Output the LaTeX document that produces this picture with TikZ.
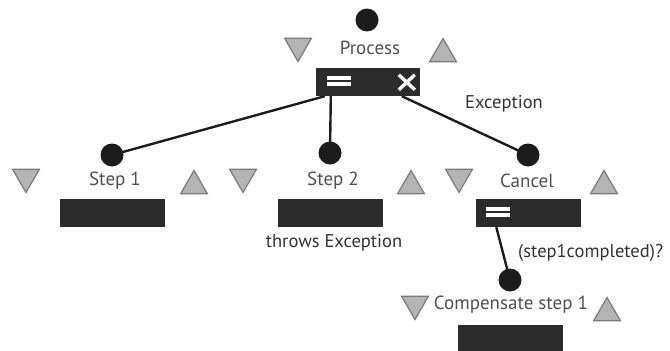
\documentclass[tikz,border=0pt]{standalone}
\usepackage{fontspec}
\setmainfont{PT Sans}
\usetikzlibrary{shapes.geometric,backgrounds}
\definecolor{ink}{HTML}{1C1C1C}
\definecolor{boxfill}{HTML}{2B2B2B}
\definecolor{trifill}{HTML}{B4B4B4}
\definecolor{triedge}{HTML}{7A7A7A}
\definecolor{namegray}{HTML}{505050}
\definecolor{labelgray}{HTML}{333333}
\tikzset{
  dot/.style={circle, fill=ink, draw=none, minimum size=23pt, inner sep=0pt},
  actbox/.style={rectangle, fill=boxfill, draw=none, minimum width=105pt, minimum height=28pt, inner sep=0pt},
  tri/.style={regular polygon, regular polygon sides=3, fill=trifill, draw=triedge, line width=1.2pt, minimum size=31pt, inner sep=0pt},
  triup/.style={tri},
  tridown/.style={tri, shape border rotate=180},
  actname/.style={text=namegray, font=\fontsize{19}{21}\selectfont, inner sep=0pt},
  edgelabel/.style={text=labelgray, font=\fontsize{18.5}{21}\selectfont, inner sep=0pt},
  wire/.style={draw=ink, line width=2.4pt},
  glyph/.style={draw=white, line width=3.4pt},
}
\newcommand{\eqmark}[1]{%
  \fill[white] ([shift={(11,8)}]#1.north west) rectangle ([shift={(35,12)}]#1.north west);
  \fill[white] ([shift={(11,14)}]#1.north west) rectangle ([shift={(35,18)}]#1.north west);}
\begin{document}
\begin{tikzpicture}[x=1pt, y=-1pt]
\useasboundingbox (0,0) rectangle (670,351);

% Process (parallel container with exception handler)
\node[dot] (pdot) at (367,20) {};
\node[actname] (pname) at (370,48) {Process};
\node[tridown] (pin) at (298,46) {};
\node[triup] (pout) at (443,54) {};
\node[actbox, minimum width=104pt] (pbox) at (368,82) {};

% Step 1
\node[dot] (s1dot) at (112,155) {};
\node[actname] (s1name) at (115,181) {Step 1};
\node[tridown] (s1in) at (26,177) {};
\node[triup] (s1out) at (194,186) {};
\node[actbox] (s1box) at (112,213) {};

% Step 2
\node[dot] (s2dot) at (330,153) {};
\node[actname] (s2name) at (333,181) {Step 2};
\node[tridown] (s2in) at (243,177) {};
\node[triup] (s2out) at (411,186) {};
\node[actbox] (s2box) at (330,213) {};
\node[edgelabel] (throws) at (334,243) {throws Exception};

% Cancel
\node[dot] (cdot) at (528,155) {};
\node[actname] (cname) at (527,181) {Cancel};
\node[tridown] (cin) at (459,177) {};
\node[triup] (cout) at (604,186) {};
\node[actbox] (cbox) at (528,213) {};

% Compensate step 1
\node[dot] (kdot) at (510,280) {};
\node[actname] (kname) at (511,305) {Compensate step 1};
\node[tridown] (kin) at (415,304) {};
\node[triup] (kout) at (607,313) {};
\node[actbox] (kbox) at (510,339) {};

% connector start points on the box edges
\coordinate (pa) at ([xshift=9pt]pbox.south west);
\coordinate (pb) at ([xshift=15pt]pbox.south west);
\coordinate (pc) at ([xshift=86pt]pbox.south west);
\coordinate (ca) at ([xshift=21pt]cbox.south west);

% connectors, behind the dots and boxes
\begin{pgfonlayer}{background}
\draw[wire] (pa) -- (s1dot.center);
\draw[wire] (pb) -- (s2dot.center);
\draw[wire] (pc) -- (cdot.center);
\draw[wire] (ca) -- (kdot.center);
\end{pgfonlayer}

\node[edgelabel] (exc) at (504,104) {Exception};
\node[edgelabel, anchor=west] (cond) at (518,253) {(step1completed)?};

% glyphs on the container boxes
\eqmark{pbox}
\eqmark{cbox}
\draw[glyph] ([shift={(83,7)}]pbox.north west) -- ([shift={(99,22)}]pbox.north west);
\draw[glyph] ([shift={(99,7)}]pbox.north west) -- ([shift={(83,22)}]pbox.north west);
\end{tikzpicture}
\end{document}
